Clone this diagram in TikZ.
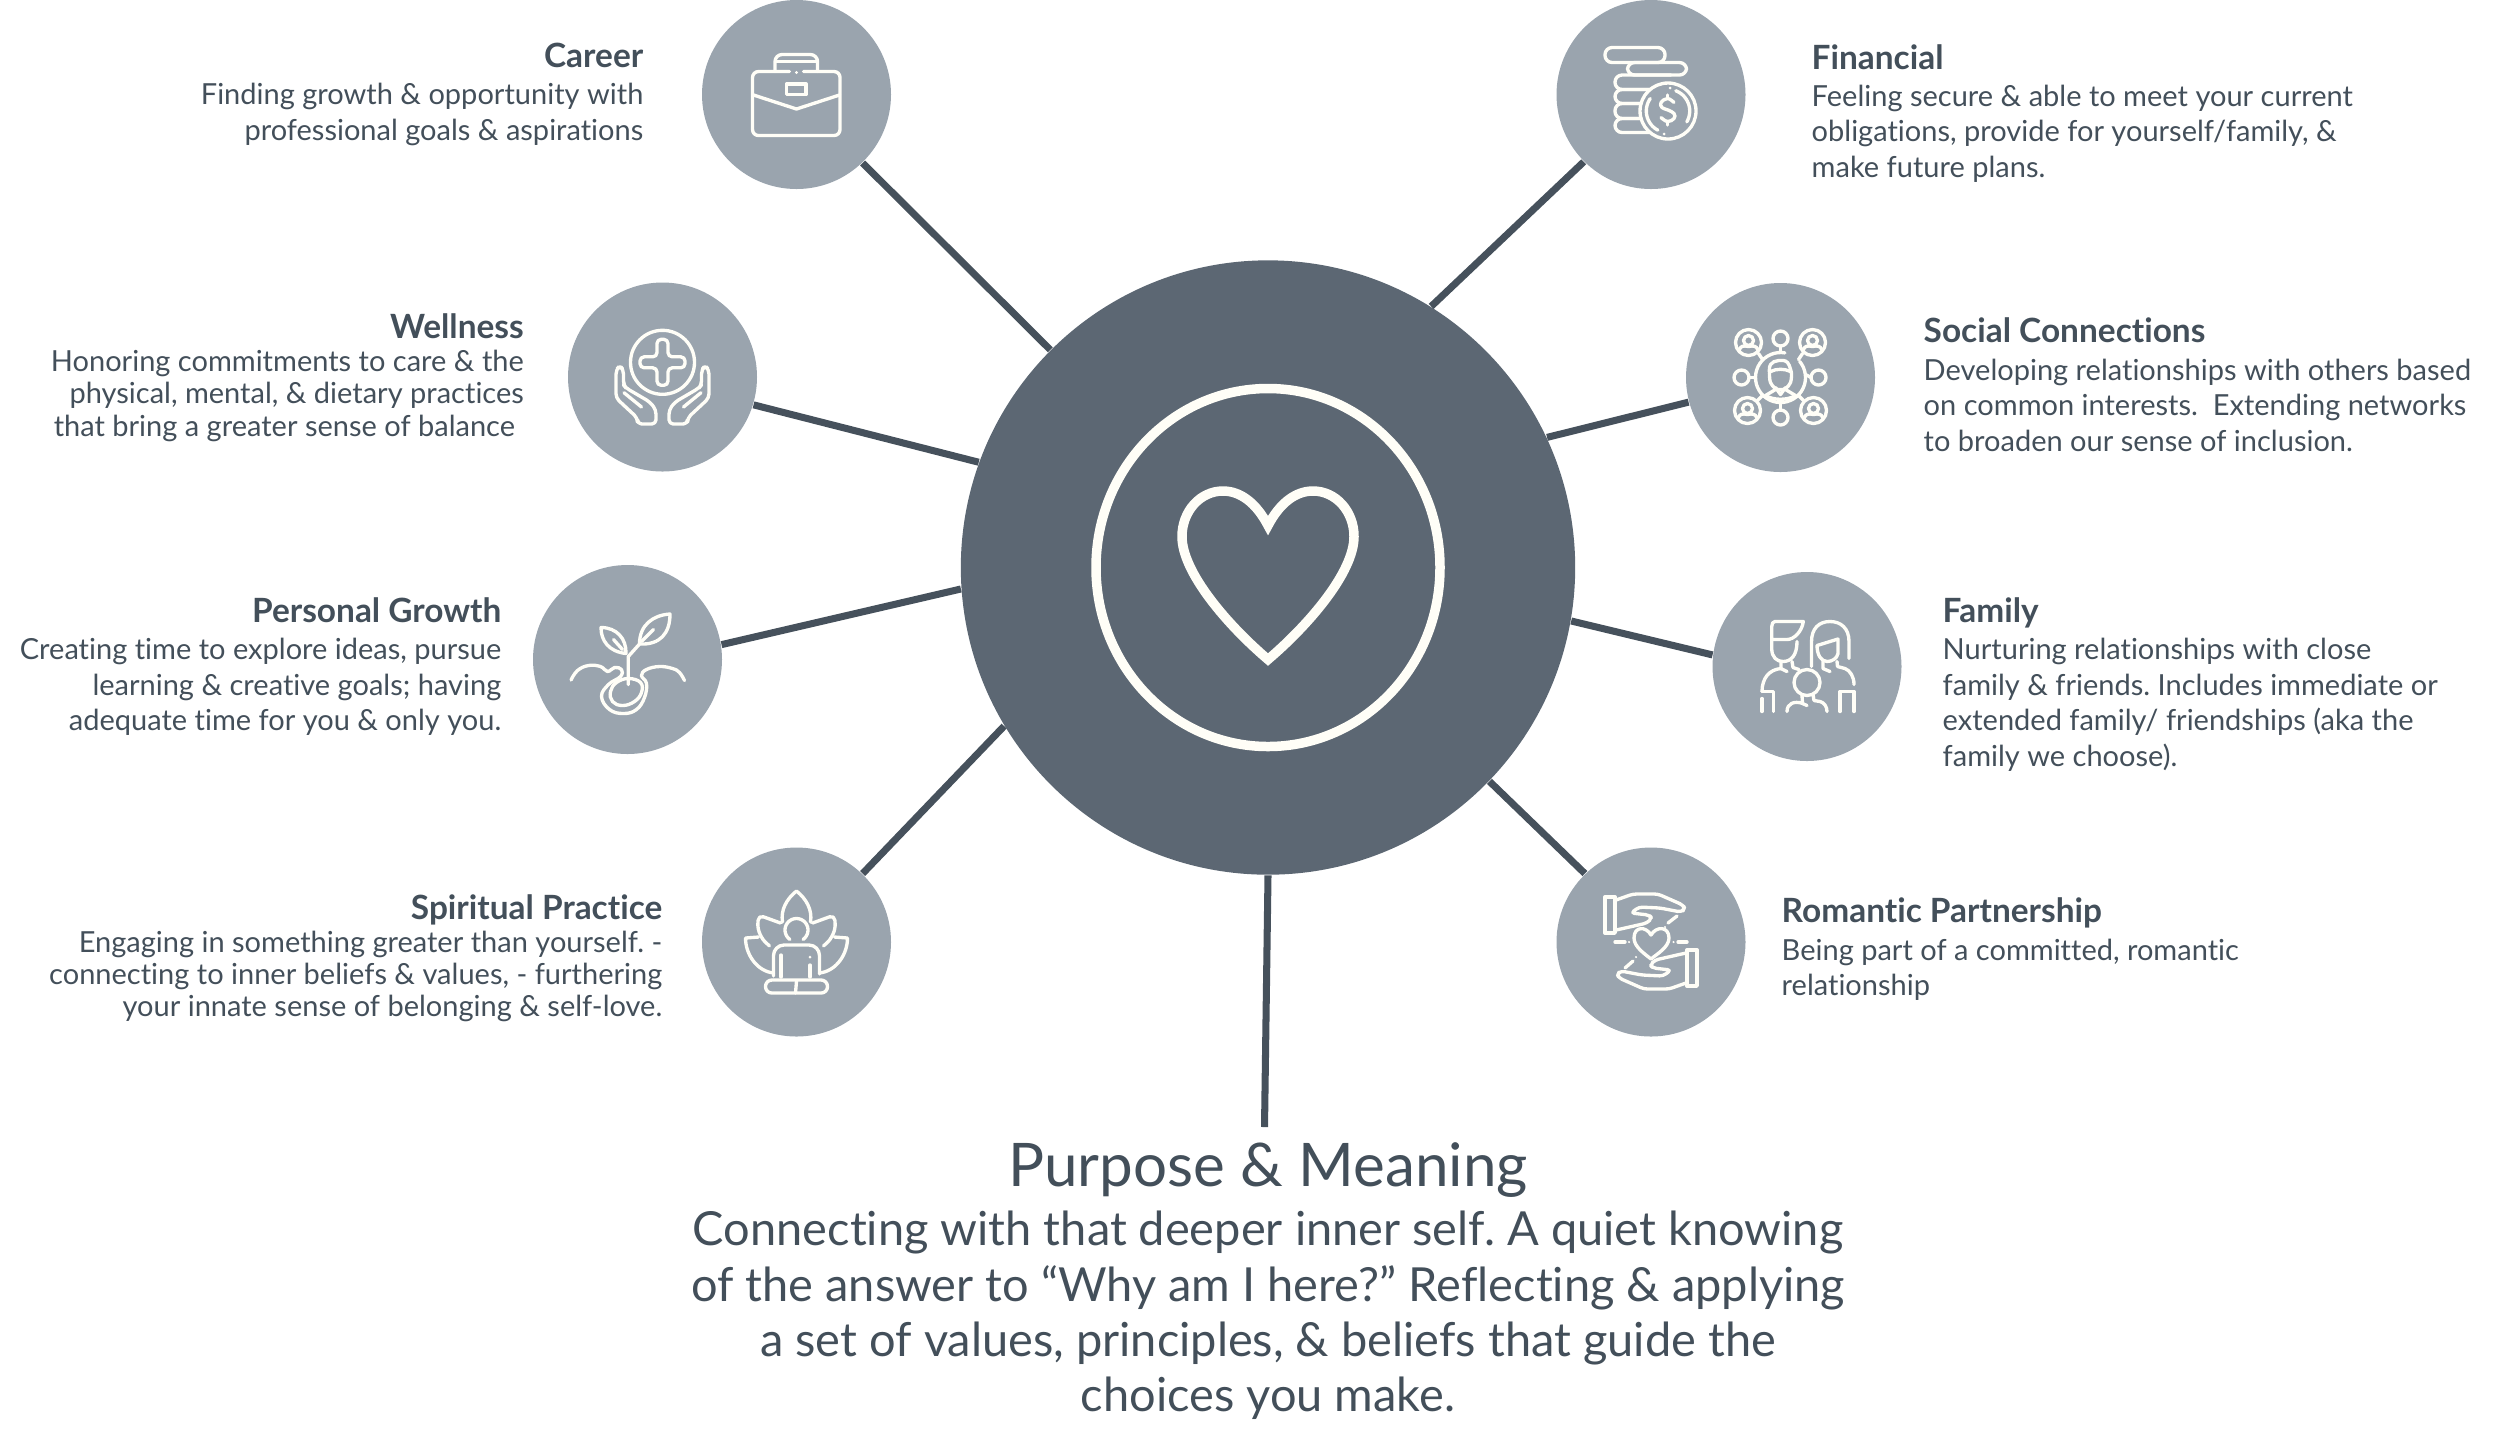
\documentclass[tikz,border=0pt]{standalone}
\usepackage{fontspec}
\setmainfont{Lato}[Ligatures=NoCommon]
\usepackage{tikz}
\usetikzlibrary{positioning,calc}
\frenchspacing
\definecolor{HubSlate}{HTML}{5C6773}
\definecolor{SpokeSlate}{HTML}{46515C}
\definecolor{TopicGrey}{HTML}{9AA4AE}
\definecolor{InkSlate}{HTML}{434F5A}
\definecolor{IconCream}{HTML}{FFFEF7}
\tikzset{
  topicdisc/.style={circle,fill=TopicGrey,minimum size=189*0.01cm,inner sep=0pt},
  spoke/.style={draw=SpokeSlate,line width=2pt},
  iconline/.style={draw=IconCream,line width=0.95pt,line cap=round,line join=round},
  headleft/.style={anchor=base east,inner sep=0pt,color=InkSlate,font=\fontsize{9.5pt}{10pt}\selectfont\bfseries},
  headright/.style={anchor=base west,inner sep=0pt,color=InkSlate,font=\fontsize{9.5pt}{10pt}\selectfont\bfseries},
  bodyleft/.style={anchor=north east,inner sep=0pt,align=right,color=InkSlate,font=\fontsize{8.25pt}{#1}\selectfont},
  bodyright/.style={anchor=north west,inner sep=0pt,align=left,color=InkSlate,font=\fontsize{8.25pt}{#1}\selectfont},
}
\begin{document}
\begin{tikzpicture}[x=0.01cm,y=-0.01cm]
    \useasboundingbox (0,0) rectangle (2500,1453);
    \node[circle,fill=HubSlate,minimum size=6.14cm,inner sep=0pt] (hub) at (1268,567.5) {};
    \node[topicdisc] (career) at (796.5,94.5) {};
    \node[topicdisc] (wellness) at (662.5,377) {};
    \node[topicdisc] (growth) at (627.5,659.5) {};
    \node[topicdisc] (spiritual) at (796.5,942) {};
    \node[topicdisc] (financial) at (1651,94.5) {};
    \node[topicdisc] (social) at (1780.5,377.5) {};
    \node[topicdisc] (family) at (1807,666.5) {};
    \node[topicdisc] (romantic) at (1651,942) {};

    \node[headleft] (careerhead) at (644,67.5) {Career};
    \node[bodyleft=10.1pt] (careerbody) at (644,82.5) {Finding growth \& opportunity with\\professional goals \& aspirations};
    \node[headleft] (wellnesshead) at (524.5,338.5) {Wellness};
    \node[bodyleft=9.2pt] (wellnessbody) at (524.5,349.5) {Honoring commitments to care \& the\\physical, mental, \& dietary practices\\that bring a greater sense of balance\hspace*{0.3em}};
    \node[headleft] (growthhead) at (502,622.5) {Personal Growth};
    \node[bodyleft=10.1pt] (growthbody) at (502,637.5) {Creating time to explore ideas, pursue\\learning \& creative goals; having\\adequate time for you \& only you.};
    \node[headleft] (spiritualhead) at (663,919.5) {Spiritual Practice};
    \node[bodyleft=9.2pt] (spiritualbody) at (663,930) {Engaging in something greater than yourself. -\\connecting to inner beliefs \& values, - furthering\\your innate sense of belonging \& self-love.};
    \node[headright] (financialhead) at (1811,69.5) {Financial};
    \node[bodyright=10.1pt] (financialbody) at (1811,84) {Feeling secure \& able to meet your current\\obligations, provide for yourself/family, \&\\make future plans.};
    \node[headright] (socialhead) at (1923,342.5) {Social Connections};
    \node[bodyright=10.1pt] (socialbody) at (1923,358) {Developing relationships with others based\\on common interests.\ \ Extending networks\\to broaden our sense of inclusion.};
    \node[headright] (familyhead) at (1942,622.5) {Family};
    \node[bodyright=10.1pt] (familybody) at (1942,637.5) {Nurturing relationships with close\\family \& friends. Includes immediate or\\extended family/ friendships (aka the\\family we choose).};
    \node[headright] (romantichead) at (1781,922.5) {Romantic Partnership};
    \node[bodyright=10.1pt] (romanticbody) at (1781,938) {Being part of a committed, romantic\\relationship};

    \node[anchor=north,inner sep=0pt,text height=16.8pt,color=InkSlate,font=\fontsize{17.1pt}{18pt}\selectfont] (purpose) at (1268,1127) {Purpose \& Meaning};
    \node[anchor=north,inner sep=0pt,align=center,color=InkSlate,font=\fontsize{13.35pt}{15.7pt}\selectfont] (purposebody) at (1268,1210.5) {Connecting with that deeper inner self. A quiet knowing\\of the answer to “Why am I here?” Reflecting \& applying\\a set of values, principles, \& beliefs that guide the\\choices you make.};
    \coordinate (spokeend) at (1264.5,1127);

    \draw[spoke] (career.-46) -- (hub.135);
    \draw[spoke] (wellness.-17.5) -- (hub.160);
    \draw[spoke] (growth.9) -- (hub.184.6);
    \draw[spoke] (spiritual.46) -- (hub.211.5);
    \draw[spoke] (financial.225) -- (hub.58);
    \draw[spoke] (social.195) -- (hub.25.2);
    \draw[spoke] (family.173) -- (hub.-10.9);
    \draw[spoke] (romantic.134) -- (hub.-44.4);
    \draw[spoke] (hub.270.4) -- (spokeend);

    \begin{scope}[shift={(hub)}]
      \draw[IconCream,line width=2.7pt] (0,0) ellipse (172 and 179);
      \draw[IconCream,line width=2.7pt] (0,-42) .. controls (-12,-65) and (-28,-76.5) .. (-45,-76.5) .. controls (-68,-76.5) and (-86,-56) .. (-86,-31) .. controls (-86,5) and (-40,58) .. (0,92) .. controls (40,58) and (86,5) .. (86,-31) .. controls (86,-56) and (68,-76.5) .. (45,-76.5) .. controls (28,-76.5) and (12,-65) .. cycle;
    \end{scope}

    \begin{scope}[shift={(career)},iconline]
      \draw[rounded corners=1.7pt] (-7,-23) -- (-44,-23) -- (-44,41) -- (43.5,41) -- (43.5,-23) -- (7,-23);
      \fill[IconCream] (0,-22) circle (1.6);
      \draw (-43,0.5) -- (0,14.5) -- (43,0.5);
      \draw (-10,-10.5) rectangle (9.5,0);
      \draw[rounded corners=2pt] (-21.5,-23) -- (-21.5,-40) -- (21,-40) -- (21,-23);
      \draw (-20,-33) -- (20,-33);
    \end{scope}

    \begin{scope}[shift={(wellness)},iconline]
      \draw (0,-14.7) circle (32);
      \draw[rounded corners=1.2pt] (-5.5,-37.7) -- (5.5,-37.7) -- (5.5,-20.2) -- (22.5,-20.2) -- (22.5,-9.2) -- (5.5,-9.2) -- (5.5,8.3) -- (-5.5,8.3) -- (-5.5,-9.2) -- (-22.5,-9.2) -- (-22.5,-20.2) -- (-5.5,-20.2) -- cycle;
      \foreach \s in {1,-1} {
        \draw[xscale=\s,rounded corners=1.2pt] (-42.7,-11.5) -- (-46.5,-7) -- (-46.5,21) -- (-25,41) -- (-25,47) -- (-6.5,47) -- (-6.5,33) -- (-12.5,25) -- (-36.5,11) -- (-39,8) -- (-39,-7) -- cycle;
        \draw[xscale=\s] (-38.5,15.7) -- (-21,30);
      }
    \end{scope}

    \begin{scope}[shift={(growth)},iconline]
      \draw (12,-15.5) .. controls (12,-35) and (26,-44.5) .. (42.5,-45.5) .. controls (42.5,-26) and (32.5,-14.5) .. cycle;
      \draw (14,-18) -- (26,-30);
      \draw (-26.5,-32) .. controls (-26.5,-19) and (-19,-8) .. (-1.5,-6) .. controls (-1,-21) and (-11,-32) .. cycle;
      \draw (-14,-20) -- (-5,-10);
      \draw (0.8,25) -- (0.8,-3) -- (12,-15.5);
      \draw plot[smooth,tension=0.7] coordinates {(-56.5,20.5) (-50,11) (-39,6) (-27,7) (-20,12) (-13,8) (-6,10) (-7,17) (-19,25) (-26,37) (-18,50) (-4,54) (9,50) (17,38) (19,24) (14,16) (19,10) (32,7) (45,9) (52,13) (57,21)};
      \draw plot[smooth cycle,tension=0.7] coordinates {(1,19) (13,23) (14,33) (7,42) (-5,46) (-15,42) (-17,32) (-11,23)};
    \end{scope}

    \begin{scope}[shift={(spiritual)},iconline]
      \draw (-14,-20) .. controls (-16,-32) and (-10,-43) .. (0,-51) .. controls (10,-43) and (16,-32) .. (14,-20);
      \foreach \s in {1,-1} {
        \draw[xscale=\s,rounded corners=1.5pt] (-16,-19) -- (-38,-27) -- (-39,-13) -- (-35,-5);
        \draw[xscale=\s] (-38,-5) -- (-51,-4) .. controls (-51,12) and (-40,29) .. (-23,31);
        \draw[xscale=\s] (-35,-5) .. controls (-33,-1) and (-30,1) .. (-27,4);
      }
      \draw plot[domain=125:415,samples=30,smooth] ({11.5*cos(\x)},{-12+11.5*sin(\x)});
      \draw[rounded corners=3pt] (-23,34) -- (-23,3) -- (23,3) -- (23,32);
      \draw (-15.5,13) -- (-15.5,35);
      \draw (13.5,23) -- (13.5,35);
      \fill[IconCream] (13.5,15) circle (1.5);
      \draw[rounded corners=1.8pt] (-31,38) rectangle (31,51);
      \draw (0,39) -- (-1,51);
    \end{scope}

    \begin{scope}[shift={(financial)},iconline]
      \draw[rounded corners=2pt] (-46,-47) rectangle (14,-32);
      \draw[rounded corners=2pt] (-23.5,-32) rectangle (35.5,-19.5);
      \foreach \ya/\yb in {-19.5/-5,-5/9,9/24,24/38} {
        \draw[rounded corners=2pt] (20,\ya) -- (-36,\ya) -- (-36,\yb) -- (20,\yb);
      }
      \draw[fill=TopicGrey] (17,16.5) circle (28);
      \draw plot[domain=-69:30,samples=20,smooth] ({17+21.7*cos(\x)},{16.5+21.7*sin(\x)});
      \draw plot[domain=118:215,samples=20,smooth] ({17+21.7*cos(\x)},{16.5+21.7*sin(\x)});
      \fill[IconCream] (19,-6.5) circle (1.5);
      \fill[IconCream] (13,39.5) circle (1.5);
      \draw plot[smooth,tension=0.7] coordinates {(23,8) (16.5,4) (10,8) (11,13) (17,15.5) (23,19) (23,24) (16.5,27) (10,23)};
      \draw (16.5,0.5) -- (16.5,4);
      \draw (16.5,27) -- (16.5,30.5);
    \end{scope}

    \begin{scope}[shift={(social)},iconline]
      \foreach \cx/\cy in {-32/-35,32/-35,-33/33,33/33} {
        \draw (\cx,\cy) circle (13);
        \draw (\cx,\cy-2) circle (5);
        \draw (\cx-9.5,\cy+8) .. controls (\cx-8,\cy+3) and (\cx-5,\cy+3) .. (\cx,\cy+4) .. controls (\cx+5,\cy+3) and (\cx+8,\cy+3) .. (\cx+9.5,\cy+8);
      }
      \foreach \cx/\cy in {0/-39,-39/0,38/0,0/40} {
        \draw (\cx,\cy) circle (7.5);
      }
      \draw plot[domain=-40:280,samples=40,smooth] ({25*cos(\x)},{25*sin(\x)});
      \draw (0,-31.5) -- (0,-25);
      \draw (0,32.5) -- (0,25);
      \draw (-31.5,0) -- (-25,0);
      \draw (30.5,0) -- (25,-3);
      \draw (-22,-24) -- (-18,-18);
      \draw (22,-24) -- (18,-18);
      \draw (-23,23) -- (-18,18);
      \draw (23,23) -- (18,18);
      \draw plot[smooth,tension=0.7] coordinates {(-11,-4) (-10,5) (-5,11) (0,12) (5,11) (10,5) (11,-4)};
      \draw plot[smooth,tension=0.7] coordinates {(-11,-4) (-10,-13) (-2,-17) (7,-15) (11,-4)};
      \draw (-10,-6) .. controls (-4,-9) and (4,-9) .. (10,-6);
      \draw (-5,10) -- (0,17) -- (5,10);
      \draw (-15,18) -- (-5,12);
      \draw (15,18) -- (5,12);
      \draw (-15,18) .. controls (-7,23) and (7,23) .. (15,18);
    \end{scope}

    \begin{scope}[shift={(family)},iconline]
      \draw (-35.3,-27) -- (-35.3,-40) .. controls (-35.3,-43) and (-34,-45) .. (-32,-45) -- (-3.7,-45) .. controls (-5,-35) and (-13,-27) .. (-20,-27) -- cycle;
      \draw (-35.3,-27) -- (-35.3,-18) .. controls (-35.3,-9) and (-30,-5) .. (-24,-5) .. controls (-16,-5) and (-10,-11) .. (-10,-25);
      \draw (-26,-5) -- (-26,2) .. controls (-38,3) and (-45,12) .. (-45,25) -- (-45,25);
      \draw (-15,-5) -- (-14,1) -- (-8,3);
      \draw (-26,2) -- (-20,5);
      \draw (-45,25) -- (-33.5,25) -- (-33.5,45);
      \draw (-45,32) -- (-45,45);
      \draw (4.5,0) -- (4.5,-25) .. controls (4.5,-38) and (12,-45) .. (23,-45) .. controls (34,-45) and (42,-38) .. (42,-25) -- (42,-8);
      \draw (10,-21) -- (31,-27.5) -- (31,-13) .. controls (30,-8) and (25,-5) .. (20,-5) .. controls (14,-5) and (10,-12) .. cycle;
      \draw (16,-5) -- (16,2) -- (23,5);
      \draw (30,-5) -- (30.5,0) -- (38,2) .. controls (43,4) and (47,10) .. (47,18);
      \draw (33,45) -- (33,25) -- (47,25) -- (47,45);
      \draw (0,16) circle (13);
      \draw (-20,45) .. controls (-20,37) and (-13,34) .. (-4,37);
      \draw (-5,29) -- (-4.5,37) -- (0,39);
      \draw (6,28) -- (7,34) -- (13,35) .. controls (17,36) and (20,40) .. (20,45);
    \end{scope}

    \begin{scope}[shift={(romantic)},iconline]
      \foreach \s in {1,-1} {
        \begin{scope}[scale=\s,yshift={(\s-1)*0.005cm}]
          \draw (-46,-45) rectangle (-36,-9);
          \draw[rounded corners=1pt] (-35,-42) -- (-18,-48) -- (7,-48) -- (32,-37) -- (34,-33) -- (30,-30) -- (9,-34) -- (-12,-35) -- (-20,-29) -- (-2,-27) -- (1,-24) -- (-4,-19) -- (-26,-14) -- (-35,-12);
        \end{scope}
      }
      \draw (0,-7) .. controls (-5,-16) and (-17,-16) .. (-17,-4) .. controls (-17,5) and (-6,12) .. (0,17) .. controls (6,12) and (18,5) .. (18,-4) .. controls (18,-16) and (5,-16) .. cycle;
      \draw (-36,0) -- (-26,0);
      \draw (36,0) -- (27,0);
      \fill[IconCream] (-22,0) circle (1.2);
      \fill[IconCream] (22.5,0) circle (1.2);
      \draw (17,-19) -- (26,-26);
      \draw (-18,19) -- (-26,26);
      \fill[IconCream] (14,-15) circle (1.2);
      \fill[IconCream] (-15,15) circle (1.2);
    \end{scope}
  \end{tikzpicture}
\end{document}
